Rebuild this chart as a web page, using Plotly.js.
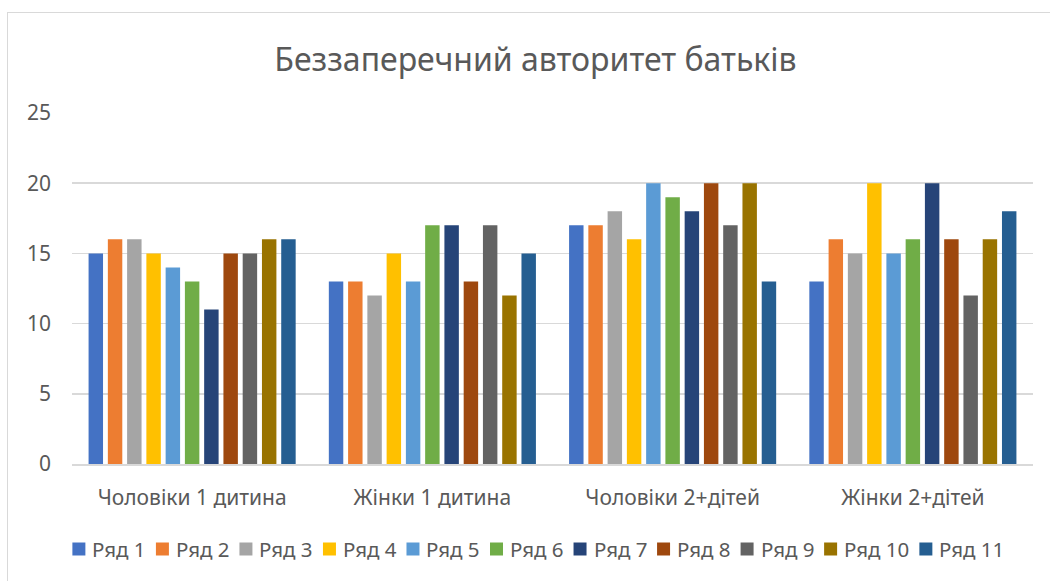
<!DOCTYPE html>
<html>
<head>
<meta charset="utf-8">
<script src="https://cdn.plot.ly/plotly-3.0.1.min.js"></script>
<style>
html,body{margin:0;padding:0;background:#fff;}
#wrap{position:relative;width:1050px;height:581px;overflow:hidden;}
#chart{width:1050px;height:581px;}
#frame{position:absolute;left:7px;top:12px;width:1100px;height:700px;border-left:1.5px solid #d9d9d9;border-top:1.5px solid #d9d9d9;pointer-events:none;}
</style>
</head>
<body>
<div id="wrap"><div id="chart"></div><div id="frame"></div></div>
<script>
const categories = ["Чоловіки 1 дитина", "Жінки 1 дитина", "Чоловіки 2+дітей", "Жінки 2+дітей"];
const seriesNames = ["Ряд 1","Ряд 2","Ряд 3","Ряд 4","Ряд 5","Ряд 6","Ряд 7","Ряд 8","Ряд 9","Ряд 10","Ряд 11"];
const ryad1 = [15, 13, 17, 13];
const ryad2 = [16, 13, 17, 16];
const ryad3 = [16, 12, 18, 15];
const ryad4 = [15, 15, 16, 20];
const ryad5 = [14, 13, 20, 15];
const ryad6 = [13, 17, 19, 16];
const ryad7 = [11, 17, 18, 20];
const ryad8 = [15, 13, 20, 16];
const ryad9 = [15, 17, 17, 12];
const ryad10 = [16, 12, 20, 16];
const ryad11 = [16, 15, 13, 18];
const yTicks = [0, 5, 10, 15, 20, 25];
const colors = ["#4472C4","#ED7D31","#A5A5A5","#FFC000","#5B9BD5","#70AD47","#264478","#9E480E","#636363","#997300","#255E91"];

const allSeries = [ryad1,ryad2,ryad3,ryad4,ryad5,ryad6,ryad7,ryad8,ryad9,ryad10,ryad11];
const fontName = "Noto Sans";
const font = "Noto Sans, Open Sans, sans-serif";
const W = 1050, H = 581;
const M = {l: 72, r: 17, t: 113, b: 117};
const plotW = W - M.l - M.r, plotH = H - M.t - M.b;

const traces = allSeries.map((vals, i) => ({
  type: "bar",
  name: seriesNames[i],
  x: categories,
  y: vals,
  marker: {color: colors[i], line: {width: 0}},
  hoverinfo: "name+y"
}));

// Custom legend (Excel style): square, small gap, text
const legFontSize = 20.5;
const ctx = document.createElement("canvas").getContext("2d");
ctx.font = legFontSize + "px '" + fontName + "'";
const sq = 13, gapSqText = 6, gapItem = 11;
const textW = seriesNames.map(n => ctx.measureText(n).width);
const totalW = textW.reduce((s, w) => s + sq + gapSqText + w + gapItem, 0) - gapItem;
const legCenterPx = 538, legYpx = 549;
let cursor = legCenterPx - totalW / 2;
const toPX = px => (px - M.l) / plotW;
const toPY = py => (H - M.b - py) / plotH;
const shapes = [], annotations = [];
seriesNames.forEach((n, i) => {
  shapes.push({
    type: "rect", xref: "paper", yref: "paper",
    x0: toPX(cursor), x1: toPX(cursor + sq),
    y0: toPY(legYpx + sq / 2), y1: toPY(legYpx - sq / 2),
    fillcolor: colors[i], line: {width: 0}
  });
  annotations.push({
    text: n, xref: "paper", yref: "paper",
    x: toPX(cursor + sq + gapSqText), y: toPY(legYpx),
    xanchor: "left", yanchor: "middle", showarrow: false, borderpad: 0,
    font: {family: font, size: legFontSize, color: "#595959"}
  });
  cursor += sq + gapSqText + textW[i] + gapItem;
});

const layout = {
  width: W, height: H,
  margin: M,
  paper_bgcolor: "#fff", plot_bgcolor: "#fff",
  barmode: "group",
  bargap: 0.118,
  bargroupgap: 0.25,
  showlegend: false,
  font: {family: font, color: "#595959", size: 21},
  title: {
    text: "Беззаперечний авторитет батьків",
    font: {family: font, size: 32, color: "#595959"},
    x: 0.51, xref: "container", xanchor: "center",
    y: 1 - 60/581, yref: "container", yanchor: "middle"
  },
  xaxis: {
    type: "category",
    showgrid: false,
    showline: true, linecolor: "#d9d9d9", linewidth: 1.5,
    ticks: "", ticklabelstandoff: 14,
    tickfont: {family: font, size: 21, color: "#595959"}
  },
  yaxis: {
    range: [0, 25],
    tickvals: yTicks,
    ticktext: yTicks.map(String),
    showgrid: true, gridcolor: "#d9d9d9", gridwidth: 1.5,
    zeroline: false, showline: false,
    ticks: "", ticklabelstandoff: 20,
    tickfont: {family: font, size: 21, color: "#595959"}
  },
  shapes: shapes,
  annotations: annotations
};

Plotly.newPlot("chart", traces, layout, {displayModeBar: false, staticPlot: true});
</script>
</body>
</html>
